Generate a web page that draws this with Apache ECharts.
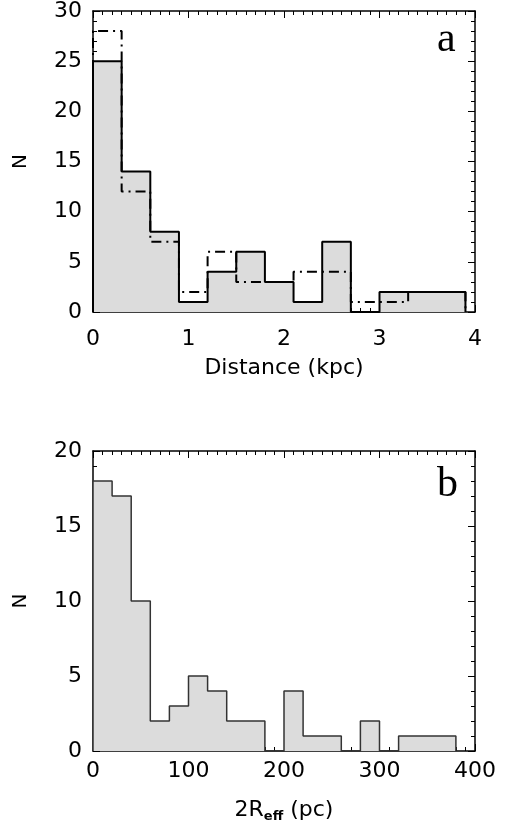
<!DOCTYPE html>
<html>
<head>
<meta charset="utf-8">
<script src="https://cdn.jsdelivr.net/npm/echarts@6/dist/echarts.min.js"></script>
<style>
  html, body { margin: 0; padding: 0; background: #fff; }
  #chart { width: 512px; height: 826px; }
</style>
</head>
<body>
<div id="chart"></div>
<script>
// Panel a: projected distance histogram (kpc), two samples
const distEdges = [0, 0.3, 0.6, 0.9, 1.2, 1.5, 1.8, 2.1, 2.4, 2.7, 3.0, 3.3, 3.6, 3.9];
const distCounts = [25, 14, 8, 1, 4, 6, 3, 1, 7, 0, 2, 2, 2];
const distCountsAlt = [28, 12, 7, 2, 6, 3, 3, 4, 4, 1, 1, 2, 2];
const distTicks = [0, 1, 2, 3, 4];

// Panel b: size histogram, 2R_eff in pc
const sizeEdges = [0, 20, 40, 60, 80, 100, 120, 140, 160, 180, 200, 220, 240, 260, 280, 300, 320, 340, 360, 380];
const sizeCounts = [18, 17, 10, 2, 3, 5, 4, 2, 2, 0, 4, 1, 1, 0, 2, 0, 1, 1, 1];
const sizeTicks = [0, 100, 200, 300, 400];

// Turn bin edges + counts into an outline for a step line (closed down to zero at both ends)
function stepOutline(edges, counts) {
  const pts = [[edges[0], 0]];
  counts.forEach((c, i) => pts.push([edges[i], c]));
  pts.push([edges[edges.length - 1], counts[counts.length - 1]]);
  pts.push([edges[edges.length - 1], 0]);
  return pts;
}

const FONT = 'DejaVu Sans';
const FILL = '#dcdcdc';

function frameAxis(opts) {
  const showLabel = !!opts.labels;
  return Object.assign({
    type: 'value',
    splitLine: { show: false },
    axisLine: { show: true, onZero: false, lineStyle: { color: '#000', width: 1.5 } },
    axisTick: { show: true, inside: true, length: 7, lineStyle: { color: '#000', width: 1 } },
    minorTick: { show: true, splitNumber: opts.minor, length: 4, lineStyle: { color: '#000', width: 1 } },
    axisLabel: {
      show: showLabel, color: '#000', fontFamily: FONT, fontSize: 22,
      margin: opts.margin || 8, showMinLabel: true, showMaxLabel: true
    }
  }, opts.extra);
}

const option = {
  animation: false,
  backgroundColor: '#fff',
  grid: [
    { left: 93, top: 11, width: 382, height: 301 },
    { left: 93, top: 451, width: 382, height: 300 }
  ],
  xAxis: [
    frameAxis({ labels: true, minor: 10, margin: 16, extra: {
      gridIndex: 0, position: 'bottom', min: distTicks[0], max: distTicks[distTicks.length - 1], interval: 1,
      name: 'Distance (kpc)', nameLocation: 'middle', nameGap: 45,
      nameTextStyle: { color: '#000', fontFamily: FONT, fontSize: 22 }
    }}),
    frameAxis({ minor: 10, extra: { gridIndex: 0, position: 'top', min: 0, max: 4, interval: 1 } }),
    frameAxis({ labels: true, minor: 10, margin: 9, extra: {
      gridIndex: 1, position: 'bottom', min: sizeTicks[0], max: sizeTicks[sizeTicks.length - 1], interval: 100,
      name: '2R{sub|eff} (pc)', nameLocation: 'middle', nameGap: 47,
      nameTextStyle: {
        color: '#000', fontFamily: FONT, fontSize: 22,
        rich: { sub: { fontFamily: FONT, fontSize: 13, fontWeight: 'bold', color: '#000', verticalAlign: 'bottom', padding: [12, 0, 0, 0] } }
      }
    }}),
    frameAxis({ minor: 10, extra: { gridIndex: 1, position: 'top', min: 0, max: 400, interval: 100 } })
  ],
  yAxis: [
    frameAxis({ labels: true, minor: 5, margin: 11, extra: {
      gridIndex: 0, position: 'left', min: 0, max: 30, interval: 5,
      name: 'N', nameLocation: 'middle', nameGap: 62,
      nameTextStyle: { color: '#000', fontFamily: FONT, fontSize: 20 }
    }}),
    frameAxis({ minor: 5, extra: { gridIndex: 0, position: 'right', min: 0, max: 30, interval: 5 } }),
    frameAxis({ labels: true, minor: 5, margin: 11, extra: {
      gridIndex: 1, position: 'left', min: 0, max: 20, interval: 5,
      name: 'N', nameLocation: 'middle', nameGap: 62,
      nameTextStyle: { color: '#000', fontFamily: FONT, fontSize: 20 }
    }}),
    frameAxis({ minor: 5, extra: { gridIndex: 1, position: 'right', min: 0, max: 20, interval: 5 } })
  ],
  graphic: [
    { type: 'text', left: 437, top: 19, style: { text: 'a', font: '42px "Liberation Serif"', fill: '#000' } },
    { type: 'text', left: 437, top: 464, style: { text: 'b', font: '42px "Liberation Serif"', fill: '#000' } }
  ],
  series: [
    {
      type: 'line', xAxisIndex: 0, yAxisIndex: 0, step: 'end', symbol: 'none', clip: false, z: 2,
      data: stepOutline(distEdges, distCounts),
      lineStyle: { color: '#000', width: 2 },
      areaStyle: { color: FILL, opacity: 1, origin: 0 }
    },
    {
      type: 'line', xAxisIndex: 0, yAxisIndex: 0, step: 'end', symbol: 'none', clip: false, z: 3,
      data: stepOutline(distEdges, distCountsAlt),
      lineStyle: { color: '#000', width: 2, type: [10, 5, 2, 5] }
    },
    {
      type: 'line', xAxisIndex: 2, yAxisIndex: 2, step: 'end', symbol: 'none', clip: false, z: 2,
      data: stepOutline(sizeEdges, sizeCounts),
      lineStyle: { color: '#333', width: 1.5 },
      areaStyle: { color: FILL, opacity: 1, origin: 0 }
    }
  ]
};

const chart = echarts.init(document.getElementById('chart'), null, { renderer: 'canvas' });
chart.setOption(option);
</script>
</body>
</html>
